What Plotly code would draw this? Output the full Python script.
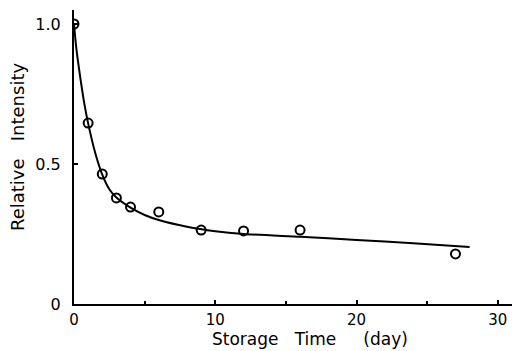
import plotly.graph_objects as go

# measured data points
days = [0, 1, 2, 3, 4, 6, 9, 12, 16, 27]
intensity = [1.0, 0.646, 0.464, 0.379, 0.346, 0.329, 0.264, 0.261, 0.264, 0.179]

# fitted curve
curve_x = [0, 0.15, 0.3, 0.5, 0.75, 1, 1.5, 2, 2.5, 3, 4, 5, 6, 8, 10, 12, 16, 20, 24, 28]
curve_y = [1.0, 0.92, 0.86, 0.79, 0.71, 0.645, 0.54, 0.462, 0.41, 0.38, 0.344, 0.318, 0.300, 0.276, 0.260, 0.250, 0.240, 0.229, 0.217, 0.204]

x_ticks = [0, 10, 20, 30]
x_minor = [5, 15, 25]
y_ticks = [0, 0.5, 1.0]
y_labels = ["0", "0.5", "1.0"]

FONT = "DejaVu Sans"

fig = go.Figure()
fig.add_trace(go.Scatter(x=curve_x, y=curve_y, mode="lines",
                         line=dict(color="black", width=2, shape="spline", smoothing=0.6),
                         hoverinfo="skip", showlegend=False))
fig.add_trace(go.Scatter(x=days, y=intensity, mode="markers",
                         marker=dict(symbol="circle-open", size=9, color="black",
                                     line=dict(width=2, color="black")),
                         showlegend=False))

fig.update_layout(
    width=512, height=351,
    margin=dict(l=74, r=0, t=10, b=47),
    paper_bgcolor="white", plot_bgcolor="white",
    font=dict(family=FONT, size=15, color="black"),
)
fig.update_xaxes(range=[0, 31], showgrid=False, zeroline=False,
                 showline=True, linecolor="black", linewidth=2,
                 tickmode="array", tickvals=x_ticks, ticktext=[str(t) for t in x_ticks],
                 ticks="inside", ticklen=4, tickwidth=2, tickcolor="black",
                 minor=dict(tickmode="array", tickvals=x_minor, ticks="inside", ticklen=3,
                            tickwidth=2, tickcolor="black"),
                 tickfont=dict(family=FONT, size=15), ticklabelstandoff=1)
fig.update_yaxes(range=[0, 1.05], showgrid=False, zeroline=False,
                 showline=True, linecolor="black", linewidth=2,
                 tickmode="array", tickvals=y_ticks, ticktext=y_labels,
                 ticks="inside", ticklen=4, tickwidth=2, tickcolor="black",
                 tickfont=dict(family=FONT, size=16), ticklabelstandoff=8)

fig.add_annotation(text="Storage\u00a0\u00a0\u00a0Time\u00a0\u00a0\u00a0\u00a0\u00a0(day)",
                   xref="paper", yref="paper", x=(310 - 74) / 438, y=0,
                   xanchor="center", yanchor="bottom", yshift=-47, showarrow=False,
                   font=dict(family=FONT, size=17, color="black"))
fig.add_annotation(text="Relative\u00a0\u00a0\u00a0Intensity",
                   xref="paper", yref="paper", x=0, y=(304 - 147) / 294,
                   xanchor="center", yanchor="middle", xshift=-57, textangle=-90,
                   showarrow=False,
                   font=dict(family=FONT, size=18, color="black"))

fig.write_html("out.html")
